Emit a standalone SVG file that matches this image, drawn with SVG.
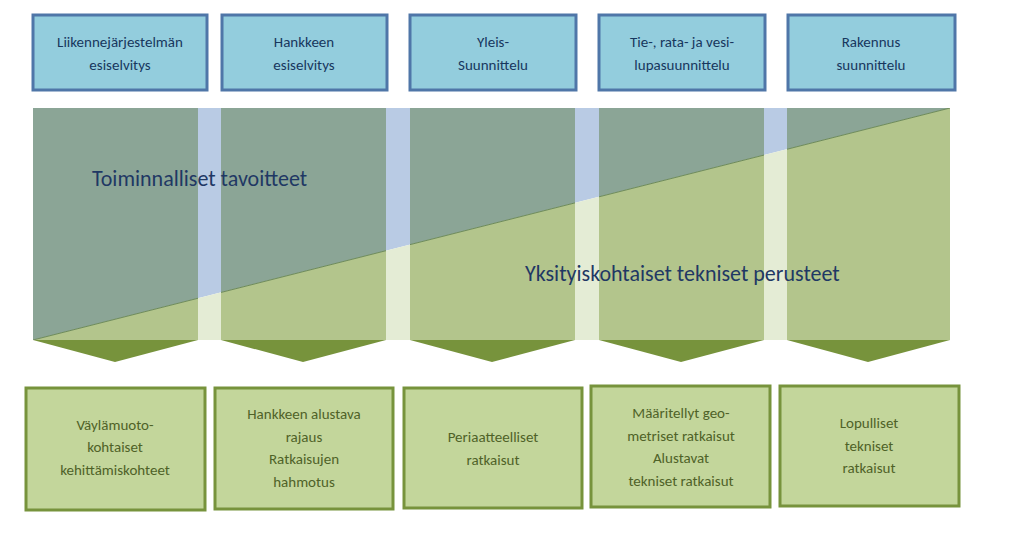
<svg xmlns="http://www.w3.org/2000/svg" width="1024" height="541" viewBox="0 0 1024 541">
<style>
.top{fill:#93cddd;stroke:#4f76a8;stroke-width:3}
.bot{fill:#c3d69b;stroke:#77933c;stroke-width:3}
.tt{font-family:Calibri,"Liberation Sans",sans-serif;font-size:15px;fill:#17375e;text-anchor:middle}
.bt{font-family:Calibri,"Liberation Sans",sans-serif;font-size:15px;fill:#4f6228;text-anchor:middle}
.big{font-family:Calibri,"Liberation Sans",sans-serif;font-size:22px;fill:#1f3864}
.arr{fill:#77933c}
</style>
<defs>
<clipPath id="cols">
<rect x="33" y="108" width="165" height="232"/><rect x="221" y="108" width="165" height="232"/><rect x="410" y="108" width="165" height="232"/><rect x="599" y="108" width="165" height="232"/><rect x="787" y="108" width="163" height="232"/>
</clipPath>
</defs>
<rect width="1024" height="541" fill="#fff"/>
<g id="band">
<polygon points="33,108 950,108 33,340" fill="#b9cbe4"/>
<polygon points="33,340 950,108 950,340" fill="#e4ecd5"/>
<g clip-path="url(#cols)">
<polygon points="33,108 950,108 33,340" fill="#8ba596"/>
<polygon points="33,340 950,108 950,340" fill="#b3c58c"/>
<line x1="33" y1="340" x2="950" y2="108" stroke="#6d8a5a" stroke-width="1"/>
</g>
<text class="big" x="92" y="186">Toiminnalliset tavoitteet</text>
<text class="big" x="525" y="281">Yksityiskohtaiset tekniset perusteet</text>
</g>
<g id="arrows">
<polygon class="arr" points="33,340 198,340 115,362"/>
<polygon class="arr" points="221,340 386,340 303,362"/>
<polygon class="arr" points="410,340 575,340 492,362"/>
<polygon class="arr" points="599,340 764,340 681,362"/>
<polygon class="arr" points="787,340 950,340 868,362"/>
</g>
<g id="t1"><rect class="top" x="33" y="15" width="174" height="75"/><text class="tt" x="120" y="47">Liikennejärjestelmän</text><text class="tt" x="120" y="70">esiselvitys</text></g>
<g id="t2"><rect class="top" x="222" y="15" width="165" height="75"/><text class="tt" x="304" y="47">Hankkeen</text><text class="tt" x="304" y="70">esiselvitys</text></g>
<g id="t3"><rect class="top" x="410" y="15" width="166" height="75"/><text class="tt" x="493" y="47">Yleis-</text><text class="tt" x="493" y="70">Suunnittelu</text></g>
<g id="t4"><rect class="top" x="599" y="15" width="166" height="75"/><text class="tt" x="682" y="47">Tie-, rata- ja vesi-</text><text class="tt" x="682" y="70">lupasuunnittelu</text></g>
<g id="t5"><rect class="top" x="788" y="15" width="167" height="75"/><text class="tt" x="871" y="47">Rakennus</text><text class="tt" x="871" y="70">suunnittelu</text></g>
<g id="b1"><rect class="bot" x="26" y="388" width="179" height="122"/><text class="bt" x="115" y="430">Väylämuoto-</text><text class="bt" x="115" y="452">kohtaiset</text><text class="bt" x="115" y="475">kehittämiskohteet</text></g>
<g id="b2"><rect class="bot" x="215" y="388" width="178" height="121"/><text class="bt" x="304" y="419">Hankkeen alustava</text><text class="bt" x="304" y="442">rajaus</text><text class="bt" x="304" y="464">Ratkaisujen</text><text class="bt" x="304" y="487">hahmotus</text></g>
<g id="b3"><rect class="bot" x="404" y="388" width="178" height="120"/><text class="bt" x="493" y="442">Periaatteelliset</text><text class="bt" x="493" y="465">ratkaisut</text></g>
<g id="b4"><rect class="bot" x="591" y="386" width="179" height="121"/><text class="bt" x="681" y="418">Määritellyt geo-</text><text class="bt" x="681" y="441">metriset ratkaisut</text><text class="bt" x="681" y="463">Alustavat</text><text class="bt" x="681" y="486">tekniset  ratkaisut</text></g>
<g id="b5"><rect class="bot" x="780" y="386" width="179" height="120"/><text class="bt" x="869" y="428">Lopulliset</text><text class="bt" x="869" y="451">tekniset</text><text class="bt" x="869" y="473">ratkaisut</text></g>
</svg>
